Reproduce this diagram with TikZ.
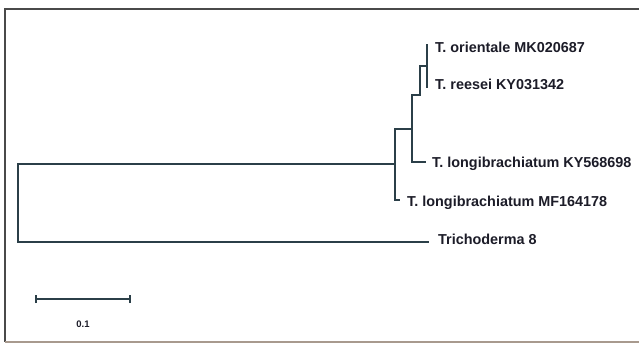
\documentclass[tikz,border=0pt]{standalone}
\usepackage{fontspec}
\setmainfont{Liberation Sans}
\definecolor{branchc}{HTML}{2B3F48}
\definecolor{textc}{HTML}{1C1C28}
\definecolor{framec}{HTML}{4A4A4A}
\definecolor{framebot}{HTML}{A89A8E}
\tikzset{
  branch/.style={draw=branchc, line width=2.3pt, line cap=rect, line join=miter},
  lab/.style={anchor=base west, inner sep=0pt, text=textc, font=\fontsize{14.4}{16}\selectfont\bfseries},
  scalelab/.style={anchor=base, inner sep=0pt, text=textc, font=\fontsize{9.5}{11}\selectfont\bfseries},
  framel/.style={draw=framec, line width=1.8pt}
}
\begin{document}
\begin{tikzpicture}[x=1pt,y=-1pt]
\useasboundingbox (0,0) rectangle (639,344);
\fill[white] (0,0) rectangle (639,344);
% frame
\coordinate (fTL) at (5,9);
\coordinate (fTR) at (639,9);
\coordinate (fBL) at (5,342);
\coordinate (fBR) at (639,342);
\draw[framel] (fTR) -- (fTL) -- (fBL);
\draw[draw=framebot, line width=1.8pt] (fBL) -- (fBR);
% tree coordinates
\coordinate (nR1) at (18,164);
\coordinate (nR2) at (18,242);
\coordinate (tTri) at (428,242);
\coordinate (nD) at (395,164);
\coordinate (nD1) at (395,129);
\coordinate (nD2) at (395,200);
\coordinate (tMF) at (399,200);
\coordinate (nB) at (412,129);
\coordinate (nB1) at (412,95);
\coordinate (nB2) at (412,162);
\coordinate (tKY) at (425,162);
\coordinate (nC1) at (420,95);
\coordinate (nC2) at (420,66);
\coordinate (nA) at (427,66);
\coordinate (tOri) at (427,45);
\coordinate (tRee) at (427,87);
% branches
\draw[branch] (tTri) -- (nR2) -- (nR1) -- (nD);
\draw[branch] (tMF) -- (nD2) -- (nD1) -- (nB);
\draw[branch] (tKY) -- (nB2) -- (nB1) -- (nC1) -- (nC2) -- (nA);
\draw[branch] (tOri) -- (tRee);
% labels
\node[lab] (lOri) at ([xshift=8pt,yshift=-8pt]tOri) {T. orientale MK020687};
\node[lab] (lRee) at ([xshift=8pt,yshift=-3pt]tRee) {T. reesei KY031342};
\node[lab] (lKY) at ([xshift=7pt,yshift=-6pt]tKY) {T. longibrachiatum KY568698};
\node[lab] (lMF) at ([xshift=8pt,yshift=-7pt]tMF) {T. longibrachiatum MF164178};
\node[lab] (lTri) at ([xshift=10pt,yshift=-3pt]tTri) {Trichoderma 8};
% scale bar
\coordinate (sL) at (36,299);
\coordinate (sR) at (130,299);
\draw[branch, line cap=butt] (sL) -- (sR);
\draw[branch, line width=1.4pt, line cap=butt] ([yshift=-4pt]sL) -- ([yshift=4pt]sL);
\draw[branch, line width=1.4pt, line cap=butt] ([yshift=-4pt]sR) -- ([yshift=4pt]sR);
\node[scalelab] (sLab) at (83,327) {0.1};
\end{tikzpicture}
\end{document}
